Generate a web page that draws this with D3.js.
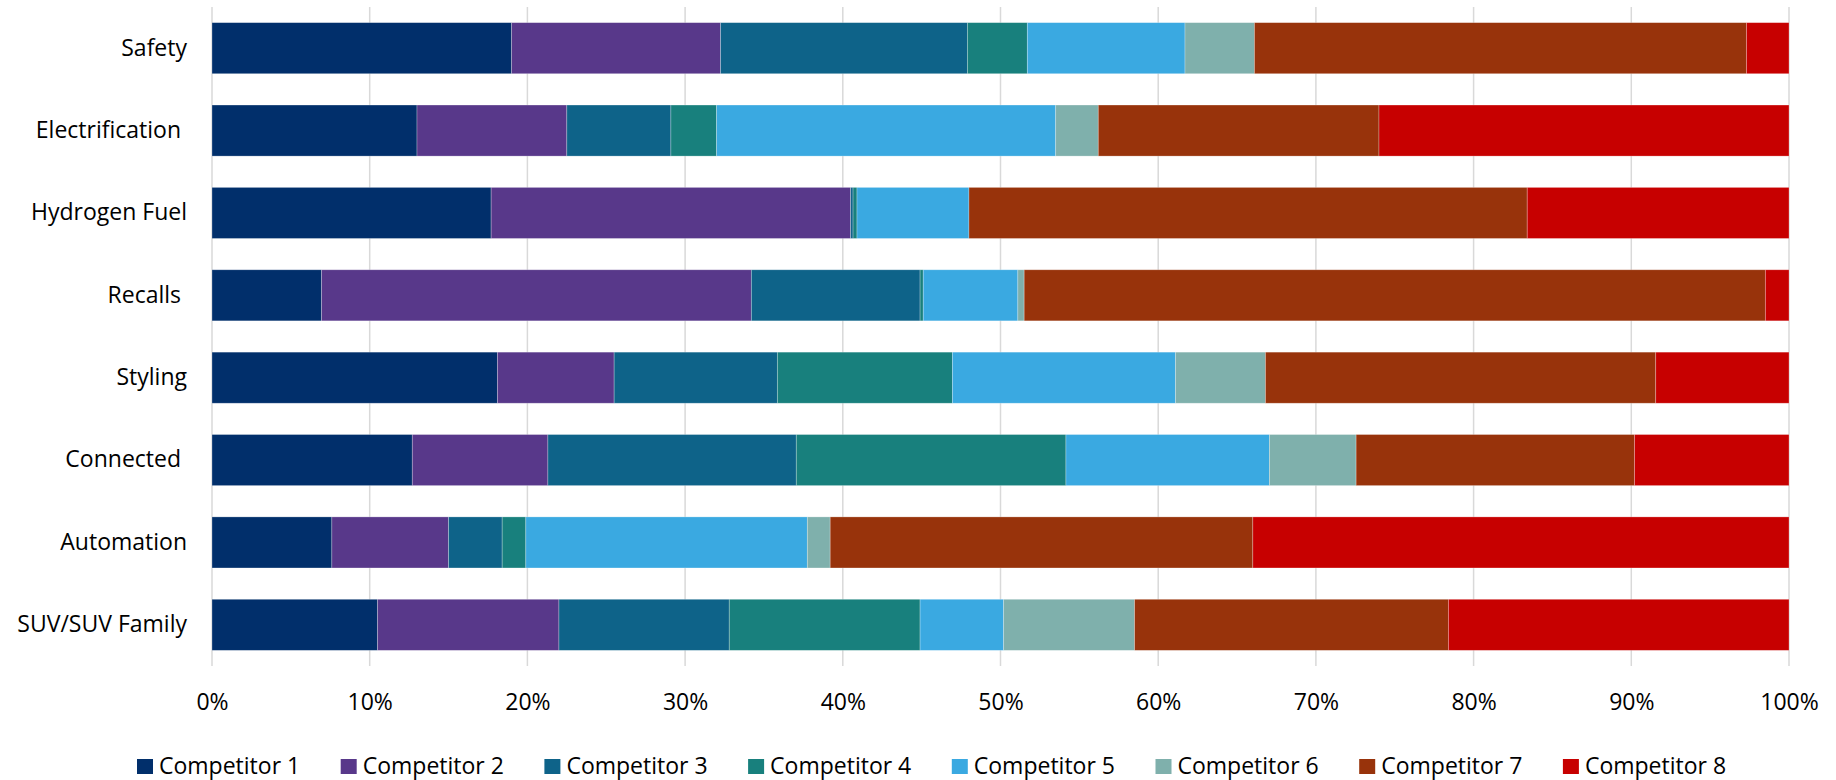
<!DOCTYPE html>
<html>
<head>
<meta charset="utf-8">
<script src="https://cdn.jsdelivr.net/npm/d3@7"></script>
<style>
  body { margin: 0; background: #fff; }
  text { font-family: "Open Sans", sans-serif; fill: #000; white-space: pre; }
</style>
</head>
<body>
<div id="chart"></div>
<script>
// categories top to bottom (trailing spaces as in the source labels)
var categories = ["Safety", "Electrification ", "Hydrogen Fuel", "Recalls ", "Styling", "Connected ", "Automation", "SUV/SUV Family"];
var competitors = ["Competitor 1", "Competitor 2", "Competitor 3", "Competitor 4", "Competitor 5", "Competitor 6", "Competitor 7", "Competitor 8"];
var colors = ["#012f6b", "#58388a", "#0e6389", "#18807d", "#3aa9e1", "#7fb0ac", "#98330b", "#c70000"];

// share per category, in category order
var comp1 = [19.0, 13.0, 17.7, 6.95, 18.1, 12.7, 7.6, 10.5];
var comp2 = [13.25, 9.5, 22.8, 27.25, 7.4, 8.6, 7.4, 11.5];
var comp3 = [15.65, 6.6, 0.15, 10.7, 10.35, 15.75, 3.4, 10.8];
var comp4 = [3.8, 2.9, 0.25, 0.2, 11.1, 17.1, 1.5, 12.1];
var comp5 = [10.0, 21.5, 7.1, 6.0, 14.15, 12.9, 17.85, 5.3];
var comp6 = [4.4, 2.7, 0, 0.4, 5.7, 5.5, 1.45, 8.3];
var comp7 = [31.2, 17.8, 35.4, 47.0, 24.75, 17.65, 26.8, 19.9];
var comp8 = [2.7, 26.0, 16.6, 1.5, 8.45, 9.8, 34.0, 21.6];

var xTicks = [0, 0.1, 0.2, 0.3, 0.4, 0.5, 0.6, 0.7, 0.8, 0.9, 1];

var series = [comp1, comp2, comp3, comp4, comp5, comp6, comp7, comp8];

// build rows for d3.stack
var rows = categories.map(function(c, i) {
    var row = {category: c};
    competitors.forEach(function(k, j) { row[k] = series[j][i]; });
    return row;
});

var W = 1836, H = 780;
var margin = {top: 7, right: 47, bottom: 114, left: 212};
var width = W - margin.left - margin.right,
    height = H - margin.top - margin.bottom;

var svg = d3.select("#chart").append("svg")
    .attr("width", W)
    .attr("height", H)
  .append("g")
    .attr("transform", "translate(" + margin.left + "," + margin.top + ")");

var x = d3.scaleLinear().domain([0, 1]).range([0, width]);
var y = d3.scaleBand()
    .domain(categories)
    .range([0, height])
    .paddingInner(0.38)
    .paddingOuter(0.19);
var color = d3.scaleOrdinal().domain(competitors).range(colors);

var stacked = d3.stack()
    .keys(competitors)
    .offset(d3.stackOffsetExpand)(rows);

// grid lines
svg.append("g")
    .selectAll("line")
    .data(xTicks)
    .enter().append("line")
    .attr("x1", function(d) { return x(d); })
    .attr("x2", function(d) { return x(d); })
    .attr("y1", 0)
    .attr("y2", height)
    .attr("stroke", "#d9d9d9")
    .attr("stroke-width", 1.5);

// bars
svg.append("g")
    .selectAll("g")
    .data(stacked)
    .enter().append("g")
    .attr("fill", function(d) { return color(d.key); })
    .selectAll("rect")
    .data(function(d) { return d; })
    .enter().append("rect")
    .attr("x", function(d) { return x(d[0]); })
    .attr("y", function(d) { return y(d.data.category); })
    .attr("width", function(d) { return x(d[1]) - x(d[0]); })
    .attr("height", y.bandwidth())
    .attr("stroke", "#ffffff")
    .attr("stroke-opacity", 0.35)
    .attr("stroke-width", 0.75);

// x axis labels
var xAxis = svg.append("g")
    .attr("transform", "translate(0," + height + ")")
    .call(d3.axisBottom(x).tickValues(xTicks).tickFormat(d3.format(".0%")).tickSize(0).tickPadding(28));
xAxis.select(".domain").remove();
xAxis.selectAll("text")
    .style("font-size", "23px")
    .style("font-family", "'Open Sans', sans-serif")
    .attr("fill", "#000");

// y axis labels
var yAxis = svg.append("g")
    .call(d3.axisLeft(y).tickSize(0).tickPadding(25));
yAxis.select(".domain").remove();
yAxis.selectAll("text")
    .style("font-size", "23px")
    .style("font-family", "'Open Sans', sans-serif")
    .attr("fill", "#000");

// legend
var legend = d3.select("svg").append("g")
    .attr("transform", "translate(137,759)");

var item = legend.selectAll("g")
    .data(competitors)
    .enter().append("g")
    .attr("transform", function(d, i) { return "translate(" + (i * 203.7) + ",0)"; });

item.append("rect")
    .attr("width", 16)
    .attr("height", 15)
    .attr("fill", function(d) { return color(d); });

item.append("text")
    .attr("x", 22)
    .attr("y", 15)
    .style("font-size", "23px")
    .text(function(d) { return d; });
</script>
</body>
</html>
